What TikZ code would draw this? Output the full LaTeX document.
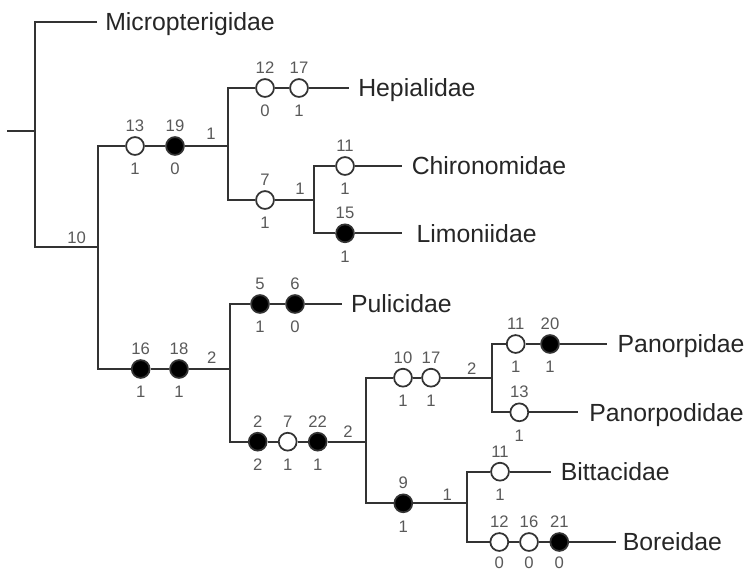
\documentclass[tikz,border=0pt]{standalone}
\usepackage{fontspec}
\setmainfont{Liberation Sans}
\begin{document}
\begin{tikzpicture}[x=0.75pt, y=-0.75pt,
    branch/.style={draw=black!80, line width=1.3pt},
    chopen/.style={circle, draw=black!80, fill=white, line width=1.3pt, minimum size=13.4pt, inner sep=0pt},
    chfill/.style={chopen, fill=black},
    num/.style={font=\fontsize{12.5}{12.5}\selectfont, text=black!65, inner sep=0pt, outer sep=0pt},
    chars/.style 2 args={label={[num, label distance=3.5pt]above:#1}, label={[num, label distance=5.6pt]below:#2}},
    charslow/.style 2 args={label={[num, label distance=3.5pt]above:#1}, label={[num, label distance=4pt]below:#2}},
    taxon/.style={anchor=base west, yshift=-6.6pt, inner sep=0pt, text=black!85, font=\fontsize{18.6}{20}\selectfont}]
\useasboundingbox (0,0) rectangle (752,572);
% junctions
\coordinate (root) at (7,131);
\coordinate (n0) at (35,131);
\coordinate (n1) at (98,247);
\coordinate (n2) at (228,146);
\coordinate (n3) at (314,200);
\coordinate (n4) at (230,369);
\coordinate (n5) at (366,441.7);
\coordinate (n6) at (491.7,377.7);
\coordinate (n7) at (467.3,503.3);
% line ends at the taxa
\coordinate (microend) at (97,22);
\coordinate (hepiend) at (349,88);
\coordinate (chiroend) at (401.7,166);
\coordinate (limonend) at (401.7,233.3);
\coordinate (puliend) at (341.7,304);
\coordinate (panoend) at (607.3,344);
\coordinate (panodend) at (578.3,412.3);
\coordinate (bittaend) at (550.7,471.7);
\coordinate (boreend) at (616,542);
% taxa
\node[taxon] (micro) at (105,22) {Micropterigidae};
\node[taxon] (hepi) at (358,88) {Hepialidae};
\node[taxon] (chiro) at (411.5,166) {Chironomidae};
\node[taxon] (limon) at (416.4,233.3) {Limoniidae};
\node[taxon] (puli) at (350.8,304) {Pulicidae};
\node[taxon] (pano) at (617.4,344) {Panorpidae};
\node[taxon] (panod) at (589,412.3) {Panorpodidae};
\node[taxon] (bitta) at (560.5,471.7) {Bittacidae};
\node[taxon] (bore) at (622.5,542) {Boreidae};
% character states
\node[chopen, chars={13}{1}] (c13) at (135,146) {};
\node[chfill, chars={19}{0}] (c19) at (175,146) {};
\node[chopen, chars={12}{0}] (c12) at (265,88) {};
\node[chopen, chars={17}{1}] (c17) at (299,88) {};
\node[chopen, chars={7}{1}] (c7) at (265,200) {};
\node[chopen, chars={11}{1}] (c11) at (345,166) {};
\node[chfill, chars={15}{1}] (c15) at (345,233.3) {};
\node[chfill, chars={16}{1}] (c16) at (140.7,369) {};
\node[chfill, chars={18}{1}] (c18) at (179,369) {};
\node[chfill, chars={5}{1}] (c5) at (260,304) {};
\node[chfill, chars={6}{0}] (c6) at (295,304) {};
\node[chfill, chars={2}{2}] (c2) at (257.7,441.7) {};
\node[chopen, chars={7}{1}] (c7b) at (287.7,441.7) {};
\node[chfill, chars={22}{1}] (c22) at (317.7,441.7) {};
\node[chopen, chars={10}{1}] (c10) at (403,377.7) {};
\node[chopen, chars={17}{1}] (c17b) at (431,377.7) {};
\node[chopen, chars={11}{1}] (c11b) at (515.7,344) {};
\node[chfill, chars={20}{1}] (c20) at (550,344) {};
\node[chopen, chars={13}{1}] (c13b) at (519.3,412.3) {};
\node[chfill, chars={9}{1}] (c9) at (403.3,503.3) {};
\node[chopen, chars={11}{1}] (c11c) at (500,471.7) {};
\node[chopen, charslow={12}{0}] (c12b) at (499.3,542) {};
\node[chopen, charslow={16}{0}] (c16b) at (529,542) {};
\node[chfill, charslow={21}{0}] (c21) at (559.3,542) {};
% branch support values
\node[num] (s10) at (76.7,237.3) {10};
\node[num] (s1a) at (211,133.3) {1};
\node[num] (s1b) at (300,189) {1};
\node[num] (s2a) at (211.7,357.7) {2};
\node[num] (s2b) at (348,431.7) {2};
\node[num] (s2c) at (471.7,368.3) {2};
\node[num] (s1c) at (447.3,495) {1};
% branches
\draw[branch] (root) -- (n0);
\draw[branch] (microend) -| (n0) |- (n1);
\draw[branch] (c13) -| (n1) |- (c16);
\draw[branch] (c13) -- (c19) -- (n2);
\draw[branch] (c12) -| (n2) |- (c7);
\draw[branch] (c12) -- (c17) -- (hepiend);
\draw[branch] (c7) -- (n3);
\draw[branch] (c11) -| (n3) |- (c15);
\draw[branch] (c11) -- (chiroend);
\draw[branch] (c15) -- (limonend);
\draw[branch] (c16) -- (c18) -- (n4);
\draw[branch] (c5) -| (n4) |- (c2);
\draw[branch] (c5) -- (c6) -- (puliend);
\draw[branch] (c2) -- (c7b) -- (c22) -- (n5);
\draw[branch] (c10) -| (n5) |- (c9);
\draw[branch] (c10) -- (c17b) -- (n6);
\draw[branch] (c11b) -| (n6) |- (c13b);
\draw[branch] (c11b) -- (c20) -- (panoend);
\draw[branch] (c13b) -- (panodend);
\draw[branch] (c9) -- (n7);
\draw[branch] (c11c) -| (n7) |- (c12b);
\draw[branch] (c11c) -- (bittaend);
\draw[branch] (c12b) -- (c16b) -- (c21) -- (boreend);
\end{tikzpicture}
\end{document}
